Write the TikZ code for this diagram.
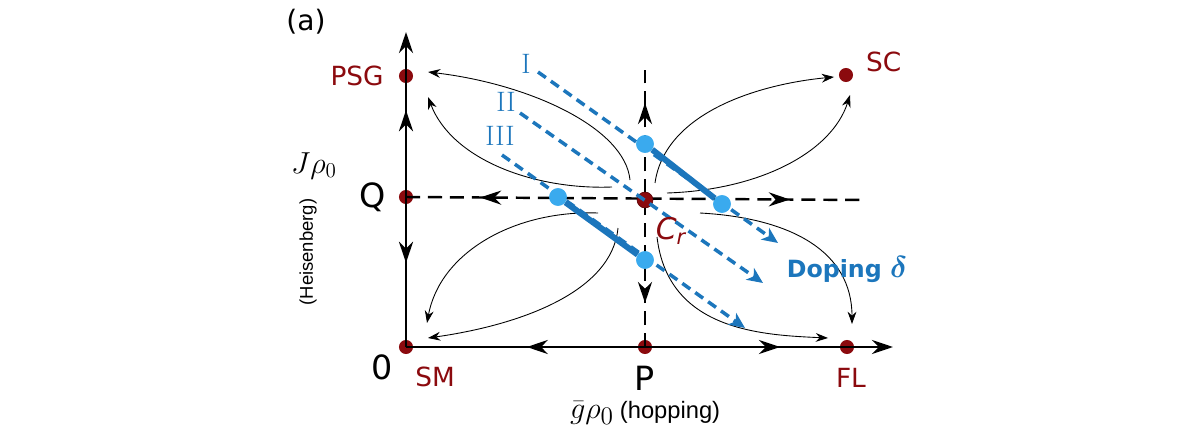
\documentclass[tikz,border=0pt]{standalone}
\usepackage{fontspec}
\usepackage{bm}
\setsansfont{DejaVu Sans}
\newfontfamily\axisfont{Liberation Sans}
\usetikzlibrary{arrows.meta,decorations.markings,positioning,calc}
\definecolor{fpred}{RGB}{139,10,14}
\definecolor{dopblue}{RGB}{28,118,188}
\definecolor{ptblue}{RGB}{58,170,238}

\tikzset{
    fixpt/.style={circle,fill=fpred,inner sep=0pt,minimum size=8pt},
    dopept/.style={circle,fill=ptblue,inner sep=0pt,minimum size=10pt},
    fplabel/.style={text=fpred,font=\sffamily\fontsize{15}{17}\selectfont},
    biglabel/.style={font=\sffamily\fontsize{19}{21}\selectfont},
    axisline/.style={line width=1.7pt},
    sepline/.style={line width=1.4pt,dash pattern=on 8pt off 4.5pt},
    flow/.style={line width=0.5pt,-{Stealth[length=7pt,width=5pt]}},
    dopline/.style={dopblue,line width=2pt,dash pattern=on 5.5pt off 3.5pt,
        -{Stealth[length=9pt,width=8pt,inset=2.5pt]}},
    thickseg/.style={dopblue,line width=3.4pt},
    romlabel/.style={text=dopblue,font=\fontsize{16}{18}\selectfont},
    midarrowsrev/.style 2 args={postaction={decorate},decoration={markings,
        mark=at position #1 with {\arrowreversed{Stealth[length=12pt,width=8pt]}},
        mark=at position #2 with {\arrow{Stealth[length=12pt,width=8pt]}}}},
}

\begin{document}
\begin{tikzpicture}[x=0.02cm,y=-0.02cm]
    \useasboundingbox (0,0) rectangle (1200,439);

    % fixed points and axis ends
    \coordinate (ytop) at (406,32);
    \coordinate (xend) at (893,347);
    \coordinate (hend) at (863,200);
    \coordinate (vtop) at (645,70);
    \node[fixpt] (SM) at (406,347) {};
    \node[fixpt] (Q) at (406,197) {};
    \node[fixpt] (PSG) at (406,76) {};
    \node[fixpt] (P) at (645,347) {};
    \node[fixpt] (FL) at (847,347) {};
    \node[fixpt] (SC) at (846,75) {};

    % axes
    \draw[axisline,midarrowsrev={0.267}{0.752},-{Stealth[length=12pt,width=8pt]}] (SM.center) -- (ytop);
    \draw[axisline,midarrowsrev={0.248}{0.768},-{Stealth[length=12pt,width=8pt]}] (SM.center) -- (xend);

    % separatrices through C_r
    \draw[sepline,midarrowsrev={0.162}{0.84}] (Q.center) -- (hend);
    \draw[sepline,midarrowsrev={0.159}{0.881}] (P.center) -- (vtop);
    \node[circle,fill=fpred,draw=fpred!70!black,inner sep=0pt,minimum size=9pt] (Cr) at (645,200) {};

    % flows
    \coordinate (toPSGa) at (428,72);
    \coordinate (toPSGb) at (428,97);
    \coordinate (toSCa) at (834,77);
    \coordinate (toSCb) at (850,95);
    \coordinate (toSMa) at (427,323);
    \coordinate (toSMb) at (428,338);
    \coordinate (toFLa) at (852,324);
    \coordinate (toFLb) at (828,338);
    \draw[flow] (630,180) .. controls (625,128) and (530,84) .. (toPSGa);
    \draw[flow] (612,187) .. controls (535,190) and (452,160) .. (toPSGb);
    \draw[flow] (655,183) .. controls (665,112) and (760,84) .. (toSCa);
    \draw[flow] (667,193) .. controls (760,190) and (832,152) .. (toSCb);
    \draw[flow] (598,213) .. controls (515,210) and (440,252) .. (toSMa);
    \draw[flow] (618,228) .. controls (612,292) and (520,325) .. (toSMb);
    \draw[flow] (700,213) .. controls (792,218) and (852,252) .. (toFLa);
    \draw[flow] (657,237) .. controls (668,330) and (760,335) .. (toFLb);

    % doping lines
    \node[romlabel] (lI) at (526,64) {I};
    \node[romlabel] (lII) at (506,102) {II};
    \node[romlabel] (lIII) at (500,136) {III};
    \coordinate (eI) at (778,243);
    \coordinate (eII) at (763,283);
    \coordinate (eIII) at (745,328);
    \draw[dopline] (538,72) -- (eI);
    \draw[dopline] (520,113) -- (eII);
    \draw[dopline] (502,155) -- (eIII);
    \node[dopept] (a1) at (645,144) {};
    \node[dopept] (a2) at (722,204) {};
    \node[dopept] (b1) at (558,197) {};
    \node[dopept] (b2) at (645,260) {};
    \draw[thickseg] (a1) -- (a2);
    \draw[thickseg] (b1) -- (b2);
    \node[dopept] at (a1) {};
    \node[dopept] at (a2) {};
    \node[dopept] at (b1) {};
    \node[dopept] at (b2) {};

    % labels
    \node[fplabel,left=5pt of PSG] {PSG};
    \node[fplabel,anchor=west] at (860,62) {SC};
    \node[fplabel] at (435,377) {SM};
    \node[fplabel] at (851,378) {FL};
    \node[text=fpred,font=\sffamily\itshape\fontsize{17}{19}\selectfont] at (671,231) {C\textsubscript{r}};
    \node[biglabel,left=4pt of Q] {Q};
    \node[biglabel] at (382,367) {0};
    \node[biglabel] at (645,378) {P};
    \node[biglabel,font=\sffamily\fontsize{16}{18}\selectfont] at (306,22) {(a)};
    \node[text=dopblue,font=\sffamily\bfseries\fontsize{13.5}{15}\selectfont] at (847,270) {Doping \fontsize{17}{19}\selectfont$\bm{\delta}$};
    \node[font=\fontsize{18}{20}\selectfont] at (314,166) {$J\rho_0$};
    \node[rotate=90,font=\axisfont\fontsize{10.5}{12}\selectfont] at (308,252) {(Heisenberg)};
    \node[font=\fontsize{19}{21}\selectfont,inner sep=0pt] (gbar) at (592,413) {$\bar g\rho_0$};
    \node[font=\axisfont\fontsize{13.5}{15}\selectfont,inner sep=0pt,anchor=base west] (hop) at ([xshift=3pt]gbar.base east) {(hopping)};
\end{tikzpicture}
\end{document}
